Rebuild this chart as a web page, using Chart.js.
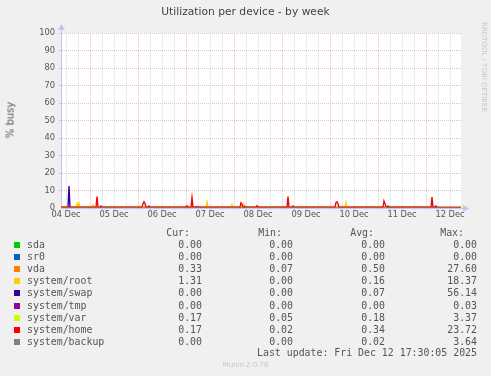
<!DOCTYPE html>
<html>
<head>
<meta charset="utf-8">
<script src="https://cdn.jsdelivr.net/npm/chart.js@4.4.1/dist/chart.umd.min.js"></script>
<style>
  body { margin: 0; background: #f0f0f0; width: 491px; height: 376px; overflow: hidden; position: relative; font-family: "DejaVu Sans", sans-serif; }
  #chart { position: absolute; left: 0; top: 0; }
  .title { position: absolute; left: 0; width: 491px; top: 5px; text-align: center; font-size: 10.7px; color: #444; }
  .ylabel { position: absolute; left: 10px; top: 120px; font-size: 10px; color: #555; transform: translate(-50%, -50%) rotate(-90deg); white-space: nowrap; }
  .rrd { position: absolute; left: 480px; top: 22px; font-size: 7px; color: #c8c8c8; writing-mode: vertical-rl; white-space: nowrap; }
  .legend { position: absolute; left: 0; top: 0; width: 491px; height: 376px; font-family: "DejaVu Sans Mono", monospace; font-size: 9.9px; color: #555; }
  .legend div { position: absolute; white-space: pre; line-height: 12px; }
  .legend .sw { width: 6px; height: 6px; }
  .munin { position: absolute; left: 0; width: 491px; top: 361px; text-align: center; font-size: 7px; color: #c8c8c8; }
</style>
</head>
<body>
<canvas id="chart" width="491" height="225"></canvas>
<div class="title">Utilization per device - by week</div>
<div class="ylabel">% busy</div>
<div class="rrd">RRDTOOL / TOBI OETIKER</div>
<div class="legend" id="legend"></div>
<div class="munin">Munin 2.0.76</div>
<script>
// hours since 04 Dec 00:00, visible window 04 Dec 09:30 .. 12 Dec 17:30
const xMin = 9.5
const xMax = 209.5
const dayLabels = ["04 Dec", "05 Dec", "06 Dec", "07 Dec", "08 Dec", "09 Dec", "10 Dec", "11 Dec", "12 Dec"]

const names = ["sda", "sr0", "vda", "system/root", "system/swap", "system/tmp", "system/var", "system/home", "system/backup"]
const colors = ["#00cc00", "#0066b3", "#ff8000", "#ffcc00", "#330099", "#990099", "#ccff00", "#ff0000", "#808080"]
const curVals = ["0.00", "0.00", "0.33", "1.31", "0.00", "0.00", "0.17", "0.17", "0.00"]
const minVals = ["0.00", "0.00", "0.07", "0.00", "0.00", "0.00", "0.05", "0.02", "0.00"]
const avgVals = ["0.00", "0.00", "0.50", "0.16", "0.07", "0.00", "0.18", "0.34", "0.02"]
const maxVals = ["0.00", "0.00", "27.60", "18.37", "56.14", "0.03", "3.37", "23.72", "3.64"]

// [hour, % busy]
const sdaPts = [[9.5, 0], [209.5, 0]]
const sr0Pts = [[9.5, 0], [209.5, 0]]
const vdaPts = [[9.5, 0.6], [25, 0.6], [25.5, 1.5], [26, 0.6], [48, 0.6], [48.5, 1.0], [49, 0.6], [71, 0.6], [71.5, 0.9], [72, 0.6],
  [120, 0.6], [120.5, 0.9], [121, 0.6], [195.5, 0.6], [196, 1.0], [196.5, 0.6], [209.5, 0.5]]
const rootPts = [[9.5, 0.2], [17, 0.2], [17.5, 2.5], [18, 1.2], [18.5, 2.7], [19, 0.2], [25, 0.2], [25.5, 1.2], [26, 0.2],
  [37, 0.2], [37.5, 1.0], [38, 0.2], [56, 0.2], [56.5, 0.8], [57, 0.2], [82, 0.2], [82.5, 3.4], [83, 1.0], [83.5, 0.2],
  [94.5, 0.2], [95, 2.0], [95.5, 0.2], [100.5, 0.2], [101, 2.0], [101.5, 0.2], [112.5, 0.2], [113, 0.6], [113.5, 0.2],
  [151.5, 0.2], [152, 3.0], [152.5, 0.2], [209, 0.2], [209.5, 1.31]]
const swapPts = [[9.5, 0], [13, 0], [13.5, 12.6], [14, 0], [29, 0], [29.5, 1.0], [30, 0], [53, 0], [53.5, 1.0], [54, 0],
  [77, 0], [77.5, 0.8], [78, 0], [101, 0], [101.5, 0.8], [102, 0], [125, 0], [125.5, 1.0], [126, 0],
  [172.5, 0], [173, 1.0], [173.5, 0], [196.5, 0], [197, 1.0], [197.5, 0], [209.5, 0]]
const tmpPts = [[9.5, 0], [209.5, 0]]
const varPts = [[9.5, 0.3], [60, 0.3], [120, 0.25], [209.5, 0.2]]
const homePts = [[9.5, 0.4], [27, 0.4], [27.5, 6.5], [28, 0.4], [50, 0.4], [50.5, 2.4], [51, 3.6], [51.5, 2.6], [52, 0.4],
  [72, 0.4], [72.5, 1.3], [73, 0.4], [74.5, 0.4], [75, 5.9], [75.5, 0.4], [99, 0.4], [99.5, 2.9], [100, 2.2], [100.5, 0.4],
  [107, 0.4], [107.5, 1.3], [108, 0.4], [122.5, 0.4], [123, 6.5], [123.5, 0.4], [146.5, 0.4], [147, 3.2], [147.5, 3.6],
  [148, 2.4], [148.5, 0.4], [170.5, 0.4], [171, 4.0], [171.5, 2.5], [172, 0.4], [194.5, 0.4], [195, 6.3], [195.5, 0.4], [209.5, 0.3]]
const backupPts = [[9.5, 0], [209.5, 0]]

const series = [sdaPts, sr0Pts, vdaPts, rootPts, swapPts, tmpPts, varPts, homePts, backupPts]

const axisColor = "#c4c4f4"
const majorGrid = "#eebcbc"
const minorGrid = "#dadada"

// legend table
const legend = document.getElementById("legend")
function addText(text, left, top, align) {
  const d = document.createElement("div")
  d.textContent = text
  d.style.top = top + "px"
  if (align === "right") d.style.right = (491 - left) + "px"
  else d.style.left = left + "px"
  legend.appendChild(d)
}
addText("Cur:", 190, 227, "right")
addText("Min:", 282, 227, "right")
addText("Avg:", 374, 227, "right")
addText("Max:", 464, 227, "right")
names.forEach((name, i) => {
  const top = 239 + i * 12.1
  const sw = document.createElement("div")
  sw.className = "sw"
  sw.style.left = "14px"
  sw.style.top = (top + 3) + "px"
  sw.style.background = colors[i]
  legend.appendChild(sw)
  addText(name, 27, top)
  addText(curVals[i], 202, top, "right")
  addText(minVals[i], 293, top, "right")
  addText(avgVals[i], 385, top, "right")
  addText(maxVals[i], 477, top, "right")
})
addText("Last update: Fri Dec 12 17:30:05 2025", 477, 347, "right")

// white plot area, axis extensions and arrows
const munnPlot = {
  id: "munnPlot",
  beforeDraw(chart) {
    const a = chart.chartArea
    const ctx = chart.ctx
    ctx.save()
    ctx.fillStyle = "#ffffff"
    ctx.fillRect(a.left, a.top, a.right - a.left, a.bottom - a.top)
    ctx.restore()
  },
  afterDraw(chart) {
    const a = chart.chartArea
    const ctx = chart.ctx
    ctx.save()
    ctx.strokeStyle = axisColor
    ctx.fillStyle = axisColor
    ctx.lineWidth = 1
    ctx.beginPath()
    ctx.moveTo(a.left + 0.5, a.top)
    ctx.lineTo(a.left + 0.5, a.top - 4)
    ctx.moveTo(a.right, a.bottom + 0.5)
    ctx.lineTo(a.right + 3, a.bottom + 0.5)
    ctx.stroke()
    ctx.beginPath()
    ctx.moveTo(a.left - 3, a.top - 3)
    ctx.lineTo(a.left + 4, a.top - 3)
    ctx.lineTo(a.left + 0.5, a.top - 9)
    ctx.fill()
    ctx.beginPath()
    ctx.moveTo(a.right + 2, a.bottom - 3)
    ctx.lineTo(a.right + 2, a.bottom + 4)
    ctx.lineTo(a.right + 8, a.bottom + 0.5)
    ctx.fill()
    ctx.restore()
  },
}

const tickFont = { family: "DejaVu Sans", size: 8.3 }

new Chart(document.getElementById("chart"), {
  type: "line",
  data: {
    datasets: series.map((pts, i) => ({
      label: names[i],
      data: pts.map((p) => ({ x: p[0], y: p[1] })),
      borderColor: colors[i],
      backgroundColor: colors[i],
      borderWidth: 1.4,
      pointRadius: 0,
      tension: 0,
      order: names.length - i,
    })),
  },
  options: {
    responsive: false,
    devicePixelRatio: 1,
    animation: false,
    layout: { padding: { top: 33, right: 30, bottom: 0, left: 0 } },
    plugins: { legend: { display: false }, tooltip: { enabled: false } },
    scales: {
      x: {
        type: "linear",
        min: xMin,
        max: xMax,
        afterFit: (s) => { s.height = 17 },
        afterBuildTicks: (axis) => {
          const ticks = []
          for (let h = 12; h < xMax; h += 6) ticks.push({ value: h })
          axis.ticks = ticks
        },
        ticks: {
          autoSkip: false,
          maxRotation: 0,
          padding: 0,
          color: "#555",
          font: tickFont,
          callback: (v) => (v % 24 === 12 ? dayLabels[(v - 12) / 24] : ""),
        },
        grid: {
          color: (c) => (c.tick && c.tick.value % 24 === 0 ? majorGrid : minorGrid),
          tickLength: 2,
          lineWidth: 1,
        },
        border: { color: axisColor, dash: [1, 1] },
      },
      y: {
        min: 0,
        max: 100,
        afterFit: (s) => { s.width = 61 },
        ticks: {
          stepSize: 5,
          padding: 4,
          color: "#555",
          font: tickFont,
          callback: (v) => (v % 10 === 0 ? v : ""),
        },
        grid: {
          color: (c) => (c.tick && c.tick.value === 0 ? "rgba(0,0,0,0)" : c.tick && c.tick.value % 10 === 0 ? majorGrid : minorGrid),
          tickLength: 2,
          lineWidth: 1,
        },
        border: { color: axisColor, dash: [1, 1] },
      },
    },
  },
  plugins: [munnPlot],
})
</script>
</body>
</html>
